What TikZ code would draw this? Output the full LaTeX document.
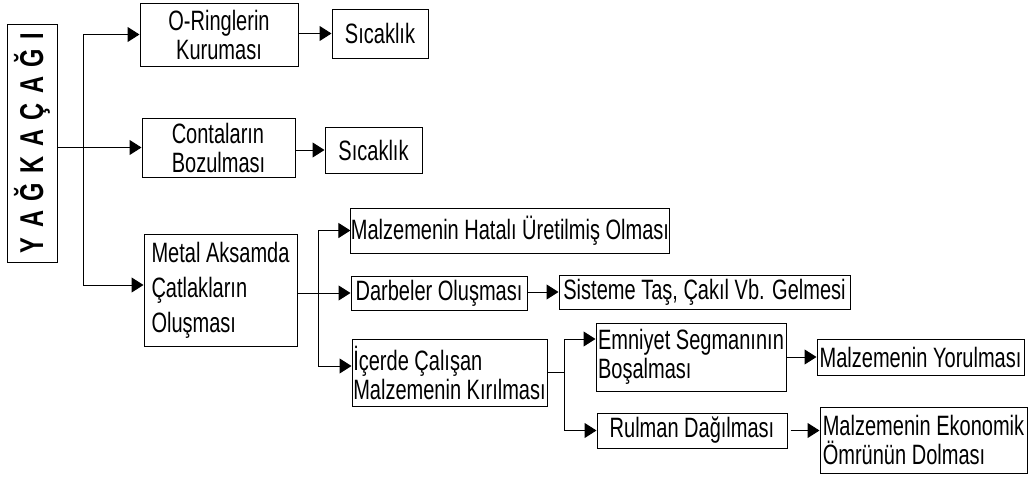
\documentclass[tikz,border=0pt]{standalone}
\usepackage{fontspec}
\setmainfont[FakeStretch=0.715]{Liberation Sans}
\usetikzlibrary{arrows.meta}

\begin{document}
\begin{tikzpicture}[x=1pt, y=-1pt,
    kutu/.style={draw, line width=1pt, inner sep=0pt, align=center, font=\fontsize{28}{29}\selectfont},
    sol/.style={align=flush left},
    ok/.style={line width=1pt, -{Triangle[length=12pt, width=15pt]}},
    hat/.style={line width=1pt}]

    \useasboundingbox (0,0) rectangle (1031,479);

    % Main box (rotated text)
    \node[kutu, minimum width=238, minimum height=50, rotate=90, font=\bfseries\fontsize{33}{36}\selectfont\addfontfeatures{LetterSpace=9}] (yag) at (32,143) {Y A Ğ K A Ç A Ğ I};

    % First level boxes
    \node[kutu, minimum width=158, minimum height=63] (oring) at (219,34.5) {O-Ringlerin\\Kuruması};
    \node[kutu, minimum width=96, minimum height=49] (sicak1) at (380,33.5) {Sıcaklık};
    \node[kutu, sol, minimum width=153, minimum height=59] (conta) at (218.5,147.5) {Contaların\\Bozulması};
    \node[kutu, minimum width=97, minimum height=46] (sicak2) at (373.5,150) {Sıcaklık};
    \node[kutu, sol, minimum width=153, minimum height=112, font=\fontsize{28}{35}\selectfont] (metal) at (220.5,290) {Metal Aksamda\\Çatlakların\\Oluşması};

    % Second level boxes
    \node[kutu, minimum width=316, minimum height=45] (hatali) at (510,230.5) {Malzemenin Hatalı Üretilmiş Olması};
    \node[kutu, minimum width=176, minimum height=34] (darbe) at (439,293) {Darbeler Oluşması};
    \node[kutu, minimum width=291, minimum height=34] (sisteme) at (704.5,292) {Sisteme Taş, Çakıl Vb. Gelmesi};
    \node[kutu, sol, minimum width=195, minimum height=67] (icerde) at (449.5,372.5) {İçerde Çalışan\\Malzemenin Kırılması};

    % Third level boxes
    \node[kutu, sol, minimum width=190, minimum height=68] (emniyet) at (691,357) {Emniyet Segmanının\\Boşalması};
    \node[kutu, minimum width=190, minimum height=35] (rulman) at (692,430.5) {Rulman Dağılması};
    \node[kutu, minimum width=207, minimum height=36] (yorulma) at (920.5,357) {Malzemenin Yorulması};
    \node[kutu, sol, minimum width=207, minimum height=66] (ekonomik) at (923.5,440) {Malzemenin Ekonomik\\Ömrünün Dolması};

    % Branch points
    \coordinate (kol) at (83,0);
    \coordinate (ayrim1) at (318,0);
    \coordinate (ayrim2) at (564,0);
    \coordinate (metalgir) at ([yshift=5pt]metal.west);
    \coordinate (icergir) at ([yshift=6.5pt]icerde.west);
    \coordinate (emngir) at ([yshift=18pt]emniyet.west);

    % Trunk from main box
    \draw[hat] (kol |- oring.west) -- (kol |- metalgir);
    \draw[ok] (yag.south |- conta.west) -- (conta.west);
    \draw[ok] (kol |- oring.west) -- (oring.west);
    \draw[ok] (kol |- metalgir) -- (metalgir);
    \draw[ok] (oring.east |- sicak1.west) -- (sicak1.west);
    \draw[ok] (conta.east |- sicak2.west) -- (sicak2.west);

    % Metal branch
    \draw[hat] (metal.east |- darbe.west) -- (ayrim1 |- darbe.west);
    \draw[hat] (ayrim1 |- hatali.west) -- (ayrim1 |- icergir);
    \draw[ok] (ayrim1 |- hatali.west) -- (hatali.west);
    \draw[ok] (ayrim1 |- darbe.west) -- (darbe.west);
    \draw[ok] (ayrim1 |- icergir) -- (icergir);
    \draw[ok] (darbe.east |- sisteme.west) -- (sisteme.west);

    % Inner parts branch
    \draw[hat] (icerde.east) -- (ayrim2 |- icerde.east);
    \draw[hat] (ayrim2 |- emngir) -- (ayrim2 |- rulman.west);
    \draw[ok] (ayrim2 |- emngir) -- (emngir);
    \draw[ok] (ayrim2 |- rulman.west) -- (rulman.west);
    \draw[ok] (emniyet.east |- yorulma.west) -- (yorulma.west);
    \draw[ok] ([xshift=3pt]rulman.east) -- (rulman.east -| ekonomik.west);

\end{tikzpicture}
\end{document}
